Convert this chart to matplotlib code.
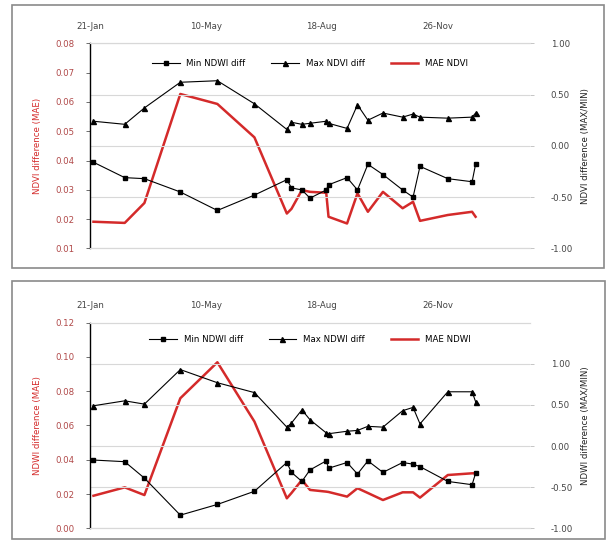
import numpy as np
import matplotlib
matplotlib.use("Agg")
import matplotlib.pyplot as plt
from matplotlib.patches import Rectangle

# days after the first axis date (21-Jan)
days = [3, 30, 47, 78, 110, 142, 170, 174, 183, 190, 204, 206,
        222, 231, 240, 253, 270, 279, 285, 309, 330, 333]
tick_days = [0, 100, 200, 300]
tick_labels = ["21-Jan", "10-May", "18-Aug", "26-Nov"]

# top panel (NDVI)
ndvi_min = [-0.16, -0.31, -0.32, -0.45, -0.63, -0.48, -0.33, -0.41, -0.43, -0.51, -0.43, -0.38,
            -0.31, -0.43, -0.18, -0.28, -0.43, -0.50, -0.20, -0.32, -0.35, -0.18]
ndvi_max = [0.24, 0.21, 0.37, 0.62, 0.635, 0.41, 0.16, 0.23, 0.21, 0.22, 0.24, 0.22,
            0.17, 0.40, 0.25, 0.32, 0.28, 0.31, 0.28, 0.27, 0.28, 0.32]
ndvi_mae = [0.0191, 0.0187, 0.0255, 0.0627, 0.0593, 0.0479, 0.0219, 0.0235, 0.0299, 0.0293, 0.0290, 0.0208,
            0.0185, 0.0288, 0.0225, 0.0293, 0.0237, 0.0259, 0.0194, 0.0214, 0.0225, 0.0208]

# bottom panel (NDWI)
ndwi_min = [-0.17, -0.19, -0.39, -0.84, -0.71, -0.55, -0.20, -0.32, -0.43, -0.29, -0.18, -0.27,
            -0.20, -0.34, -0.18, -0.32, -0.20, -0.22, -0.25, -0.43, -0.47, -0.33]
ndwi_max = [0.49, 0.55, 0.51, 0.93, 0.77, 0.65, 0.23, 0.28, 0.44, 0.32, 0.16, 0.15,
            0.18, 0.19, 0.24, 0.23, 0.43, 0.47, 0.27, 0.66, 0.66, 0.54]
ndwi_mae = [0.0190, 0.0239, 0.0194, 0.0759, 0.0969, 0.0623, 0.0175, 0.0206, 0.0282, 0.0224, 0.0214, 0.0212,
            0.0185, 0.0234, 0.0206, 0.0165, 0.0210, 0.0210, 0.0179, 0.0311, 0.0321, 0.0321]

W, H = 609, 547
fig = plt.figure(figsize=(W / 100, H / 100), dpi=100)
plt.rcParams['font.family'] = 'DejaVu Sans'

red = '#d42a2a'
lab_red = '#b04848'
fs = 6.2


def px(x0, y0, x1, y1):
    # pixel box -> figure fraction rect
    return [x0 / W, 1 - y1 / H, (x1 - x0) / W, (y1 - y0) / H]


def panel(box, frame, mae, vmin, vmax, ylim_l, yticks_l, ylim_r, names, ylab_l, ylab_r, leg_y):
    fig.patches.append(Rectangle((frame[0] / W, 1 - frame[3] / H), (frame[2] - frame[0]) / W,
                                 (frame[3] - frame[1]) / H, transform=fig.transFigure,
                                 fill=False, edgecolor='#8a8a8a', linewidth=1.2))
    ax = fig.add_axes(px(*box))
    ax2 = ax.twinx()
    l3, = ax.plot(days, mae, color=red, lw=1.8, label=names[2], zorder=2)
    l1, = ax2.plot(days, vmin, color='black', lw=0.8, marker='s', ms=3.2, label=names[0])
    l2, = ax2.plot(days, vmax, color='black', lw=0.8, marker='^', ms=3.6, label=names[1])
    ax.set_xlim(0, 380)
    ax.set_ylim(*ylim_l)
    ax.set_yticks(yticks_l)
    ax.set_yticklabels(['%.2f' % v for v in yticks_l], fontsize=fs, color=lab_red)
    ax2.set_ylim(*ylim_r)
    ax2.set_yticks([-1, -0.5, 0, 0.5, 1])
    ax2.set_yticklabels(['%.2f' % v for v in [-1, -0.5, 0, 0.5, 1]], fontsize=fs, color='#444444')
    ax2.grid(axis='y', color='#d8d8d8', lw=0.8)
    ax2.set_axisbelow(True)
    ax.xaxis.tick_top()
    ax.set_xticks(tick_days)
    ax.set_xticklabels(tick_labels, fontsize=fs, color='#444444')
    ax.tick_params(axis='x', length=0, pad=9)
    ax.tick_params(axis='y', length=3, width=0.6, pad=8, color='#555555')
    ax2.tick_params(axis='y', length=3, width=0.6, pad=12, color='#bbbbbb')
    for a in (ax, ax2):
        a.spines['right'].set_visible(False)
        a.spines['top'].set_color('#d8d8d8')
        a.spines['bottom'].set_color('#d8d8d8')
        a.spines['left'].set_visible(False)
    ax2.spines['left'].set_visible(True)
    ax2.spines['left'].set_color('black')
    ax2.spines['left'].set_linewidth(1.0)
    ax.set_ylabel(ylab_l, fontsize=fs, color=red, labelpad=10)
    ax2.set_ylabel(ylab_r, fontsize=fs, color='#222222', labelpad=6)
    ax.patch.set_visible(False)
    ax2.legend(handles=[l1, l2, l3], loc='center', bbox_to_anchor=(0.5, leg_y), ncol=3,
               frameon=False, fontsize=fs, handlelength=3.2, columnspacing=3.0)
    return ax, ax2


panel((90, 43.3, 530, 248.4), (12, 5, 604, 268), ndvi_mae, ndvi_min, ndvi_max,
      (0.01, 0.08), np.arange(0.01, 0.081, 0.01), (-1, 1),
      ["Min NDWI diff", "Max NDVI diff", "MAE NDVI"],
      "NDVI difference (MAE)", "NDVI difference (MAX/MIN)", 0.9)

panel((90, 322.7, 530, 528.3), (12, 281, 605, 539), ndwi_mae, ndwi_min, ndwi_max,
      (0.0, 0.12), np.arange(0.0, 0.121, 0.02), (-1, 1.5),
      ["Min NDWI diff", "Max NDWI diff", "MAE NDWI"],
      "NDWI difference (MAE)", "NDWI difference (MAX/MIN)", 0.92)

fig.savefig("out.png", dpi=100)
